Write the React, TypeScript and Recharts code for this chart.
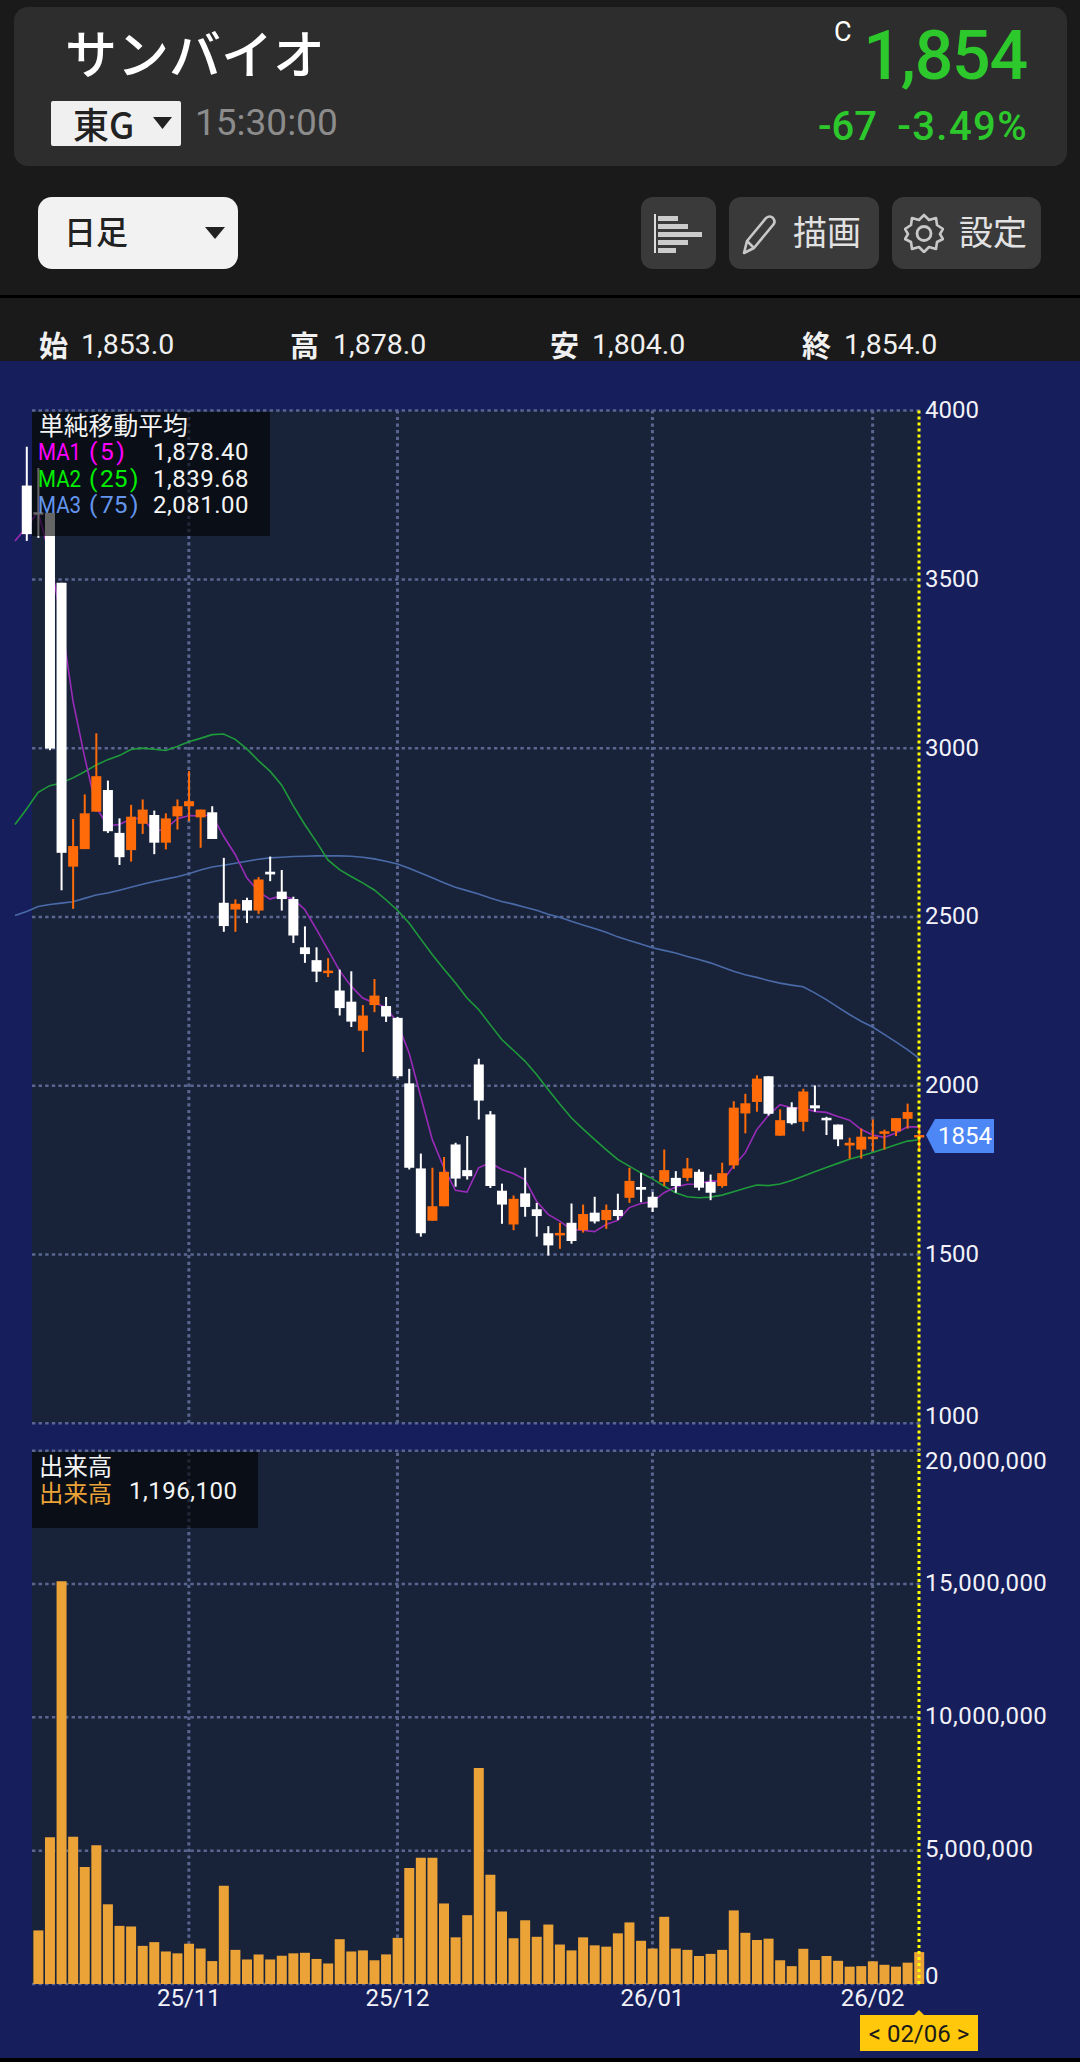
import React from 'react';
import { ComposedChart, Bar, Line, XAxis, YAxis, CartesianGrid, ReferenceLine } from 'recharts';

// session index, -2 is only seen by the moving averages
const sessionIndex = Array.from({ length: 79 }, (_, i) => i - 2);

const openPrices = [null,
  3778, 3699, 3697, 3490, 2649, 2701, 2812, 2876, 2749, 2698, 2776, 2802, 2720, 2798, 2828, 2795, 2810, 2542, 2522, 2550,
  2519, 2634, 2575, 2553, 2410, 2372, 2334, 2282, 2249, 2163, 2239, 2236, 2201, 2007, 1755, 1600, 1643, 1826, 1750, 2063,
  1915, 1689, 1589, 1681, 1634, 1563, 1562, 1594, 1572, 1624, 1602, 1632, 1668, 1700, 1671, 1715, 1727, 1727, 1745, 1715,
  1703, 1764, 1918, 1952, 2028, 1852, 1936, 1893, 1942, 1905, 1885, 1823, 1811, 1845, 1859, 1865, 1902, 1853,
];
const highPrices = [null,
  3893, 3830, 3697, 3490, 2790, 2863, 3044, 2904, 2792, 2832, 2848, 2815, 2807, 2848, 2932, 2818, 2828, 2675, 2552, 2557,
  2618, 2679, 2639, 2560, 2472, 2410, 2378, 2344, 2339, 2239, 2316, 2263, 2204, 2050, 1799, 1757, 1789, 1831, 1851, 2080,
  1925, 1710, 1675, 1757, 1653, 1584, 1594, 1651, 1648, 1671, 1648, 1680, 1757, 1742, 1685, 1811, 1747, 1786, 1752, 1737,
  1772, 1954, 1976, 2031, 2028, 1930, 1951, 1991, 2001, 1908, 1885, 1846, 1873, 1900, 1870, 1904, 1947, 1878,
];
const lowPrices = [null,
  3614, 3623, 2994, 2579, 2524, 2701, 2812, 2749, 2654, 2664, 2746, 2686, 2700, 2759, 2784, 2705, 2731, 2456, 2456, 2482,
  2509, 2606, 2519, 2423, 2364, 2307, 2322, 2208, 2174, 2100, 2218, 2189, 2023, 1752, 1553, 1600, 1643, 1701, 1722, 1900,
  1697, 1591, 1572, 1612, 1553, 1497, 1517, 1532, 1565, 1592, 1576, 1602, 1653, 1655, 1626, 1703, 1683, 1717, 1690, 1661,
  1698, 1754, 1859, 1923, 1912, 1852, 1885, 1865, 1923, 1854, 1821, 1784, 1784, 1806, 1811, 1851, 1873, 1804,
];
const closePrices = [null,
  3634, 3697, 2999, 2690, 2710, 2807, 2917, 2754, 2677, 2797, 2818, 2720, 2792, 2828, 2843, 2818, 2731, 2473, 2539, 2519,
  2611, 2626, 2553, 2445, 2390, 2338, 2341, 2230, 2190, 2208, 2267, 2205, 2028, 1757, 1563, 1643, 1745, 1725, 1732, 1956,
  1703, 1648, 1665, 1641, 1614, 1527, 1564, 1540, 1620, 1598, 1632, 1614, 1718, 1692, 1639, 1750, 1703, 1755, 1698, 1683,
  1741, 1935, 1948, 2021, 1917, 1898, 1889, 1983, 1933, 1900, 1841, 1831, 1849, 1849, 1865, 1904, 1922, 1854,
];

const ma1Values = [
  3614, 3655, 3700, 3570, 3375, 3140, 2975, 2825, 2770, 2774, 2790, 2793, 2753, 2761, 2791, 2800, 2800, 2802, 2739, 2685,
  2616, 2575, 2553, 2563, 2553, 2522, 2464, 2403, 2341, 2295, 2260, 2245, 2233, 2186, 2097, 1969, 1841, 1757, 1690, 1685,
  1757, 1772, 1752, 1740, 1722, 1658, 1619, 1599, 1574, 1572, 1568, 1589, 1601, 1639, 1651, 1656, 1683, 1700, 1708, 1709,
  1718, 1716, 1762, 1801, 1870, 1912, 1944, 1935, 1933, 1924, 1921, 1909, 1898, 1871, 1854, 1847, 1860, 1878, 1878,
];
const ma2Values = [
  2774, 2820, 2869, 2889, 2897, 2912, 2930, 2950, 2966, 2978, 2996, 3000, 2997, 2993, 3005, 3019, 3029, 3040, 3042, 3026,
  2998, 2963, 2932, 2891, 2830, 2774, 2723, 2669, 2640, 2620, 2601, 2580, 2551, 2520, 2482, 2435, 2389, 2346, 2305, 2260,
  2226, 2181, 2137, 2105, 2073, 2033, 1989, 1946, 1905, 1872, 1841, 1811, 1782, 1762, 1742, 1724, 1703, 1683, 1671, 1668,
  1670, 1676, 1686, 1696, 1706, 1704, 1709, 1719, 1732, 1745, 1758, 1770, 1782, 1792, 1802, 1813, 1825, 1836, 1840,
];
const ma3Values = [
  2504, 2516, 2531, 2537, 2541, 2545, 2555, 2565, 2571, 2579, 2588, 2597, 2605, 2612, 2619, 2628, 2639, 2648, 2653, 2659,
  2665, 2671, 2675, 2677, 2679, 2680, 2681, 2681, 2681, 2680, 2677, 2672, 2665, 2657, 2644, 2630, 2616, 2601, 2588, 2578,
  2568, 2556, 2546, 2538, 2529, 2520, 2508, 2499, 2487, 2476, 2466, 2455, 2441, 2430, 2420, 2409, 2401, 2393, 2383, 2374,
  2364, 2352, 2339, 2329, 2321, 2312, 2304, 2298, 2293, 2275, 2255, 2233, 2211, 2191, 2174, 2152, 2130, 2107, 2081,
];
const volumeValues = [null, null,
  2010000, 5500000, 15100000, 5520000, 4390000, 5200000, 2990000, 2180000, 2160000, 1430000, 1570000, 1220000, 1150000, 1510000, 1330000, 860000, 3680000, 1280000,
  920000, 1110000, 920000, 1060000, 1150000, 1170000, 940000, 770000, 1680000, 1220000, 1260000, 890000, 1110000, 1730000, 4350000, 4730000, 4730000, 3020000, 1750000, 2580000,
  8100000, 4100000, 2720000, 1720000, 2390000, 1770000, 2230000, 1480000, 1260000, 1750000, 1450000, 1400000, 1900000, 2310000, 1620000, 1330000, 2520000, 1330000, 1280000, 1050000,
  1130000, 1280000, 2760000, 1920000, 1650000, 1700000, 890000, 670000, 1320000, 900000, 1050000, 870000, 650000, 670000, 850000, 720000, 650000, 800000, 1196100,
];

const priceTicks = [4000, 3500, 3000, 2500, 2000, 1500, 1000];
const volumeTicks = [20000000, 15000000, 10000000, 5000000, 0];
const monthSessions = [13, 31, 53, 72];
const monthLabels = ['25/11', '25/12', '26/01', '26/02'];
const lastSession = 76;
const lastClose = 1854;
const lastDate = '< 02/06 >';

const chartData = sessionIndex.map((idx, i) => ({
  idx,
  open: openPrices[i],
  high: highPrices[i],
  low: lowPrices[i],
  close: closePrices[i],
  range: highPrices[i] == null ? null : [lowPrices[i], highPrices[i]],
  ma1: ma1Values[i],
  ma2: ma2Values[i],
  ma3: ma3Values[i],
  volume: volumeValues[i],
}));

const NAVY = '#161e5c';
const PLOT = '#18233a';
const GRID = '#5a6690';
const JP = '"Noto Sans CJK JP", sans-serif';
const RB = 'Roboto, sans-serif';
const GREEN = '#2cc82c';

const PAGE_W = 1080;
const PLOT_LEFT = 32;
const PLOT_W = 888;
const LEFT = 9.2;
const AXIS_W = 155.2;
const PRICE_TOP = 410.6;
const PRICE_BOTTOM = 1423.3;
const VOL_TOP = 1450.7;
const VOL_BOTTOM = 1984;

const Candle = (props: any) => {
  const { x, y, width, height, payload } = props;
  if (payload.high == null) return null;
  const perUnit = height / Math.max(1, payload.high - payload.low);
  const top = y + (payload.high - Math.max(payload.open, payload.close)) * perUnit;
  const bodyH = Math.max(2.5, Math.abs(payload.open - payload.close) * perUnit);
  const color = payload.close >= payload.open ? '#ff6b08' : '#ffffff';
  const mid = x + width / 2;
  return (
    <g>
      <rect x={mid - 1} y={y} width={2} height={height} fill={color} />
      <rect x={x} y={top} width={width} height={bodyH} fill={color} />
    </g>
  );
};

const AxisTick = (props: any) => {
  const { y, payload } = props;
  const isVolume = payload.value >= 100000 || payload.value === 0;
  let shift = isVolume ? -2 : -1;
  if (payload.value === 1000) shift = -8;
  if (payload.value === 20000000) shift = 10;
  if (payload.value === 0) shift = -9;
  const text = isVolume ? payload.value.toLocaleString('en-US') : String(payload.value);
  return (
    <text
      x={925}
      y={y + shift}
      dy={8.5}
      fill="#f2f2f8"
      fontFamily={RB}
      fontSize={24}
      letterSpacing={payload.value >= 100000 ? 0.5 : 0}
    >
      {text}
    </text>
  );
};

const MonthTick = (props: any) => {
  const { x, payload } = props;
  return (
    <text x={x} y={2006} textAnchor="middle" fill="#f2f2f8" fontFamily={RB} fontSize={24}>
      {monthLabels[monthSessions.indexOf(payload.value)]}
    </text>
  );
};

const PriceTag = (props: any) => {
  const y = props.viewBox.y + 1;
  return (
    <g>
      <polygon points={`926,${y - 1} 935,${y - 17} 994,${y - 17} 994,${y + 17} 935,${y + 17}`} fill="#4d86f5" />
      <text x={965} y={y + 8} textAnchor="middle" fill="#ffffff" fontFamily={RB} fontSize={24}>
        {lastClose}
      </text>
    </g>
  );
};

const DateTag = (props: any) => {
  const x = props.viewBox.x;
  return (
    <g>
      <polygon points={`${x - 5},2015 ${x},2010 ${x + 5},2015`} fill="#ffc80a" />
      <rect x={860} y={2015} width={118} height={36} fill="#ffc80a" />
      <text x={919} y={2042} textAnchor="middle" fill="#1a1a1a" fontFamily={RB} fontSize={24}>
        {lastDate}
      </text>
    </g>
  );
};

const Txt = ({ x, y, size, color, font = JP, weight = 400, right, spacing = 0, children }: any) => (
  <div
    style={{
      position: 'absolute',
      left: right ? undefined : x,
      right: right ? PAGE_W - x : undefined,
      top: y,
      transform: 'translateY(-50%)',
      fontSize: size,
      lineHeight: 1,
      color,
      fontFamily: font,
      fontWeight: weight,
      letterSpacing: spacing,
      whiteSpace: 'nowrap',
    }}
  >
    {children}
  </div>
);

const Box = ({ x, y, w, h, bg, r = 0 }: any) => (
  <div style={{ position: 'absolute', left: x, top: y, width: w, height: h, background: bg, borderRadius: r }} />
);

const Header = () => (
  <>
    <Box x={14} y={7} w={1053} h={159} bg="#2d2d2d" r={14} />
    <Txt x={65} y={52} size={52} color="#ffffff" weight={500}>サンバイオ</Txt>
    <Box x={51} y={101} w={130} h={45} bg="#f0f0f0" r={2} />
    <Txt x={73} y={123} size={36} color="#222222" weight={500}>東G</Txt>
    <svg style={{ position: 'absolute', left: 152, top: 116 }} width={22} height={14}>
      <polygon points="1,1 20,1 10.5,13" fill="#222222" />
    </svg>
    <Txt x={195} y={122} size={37} color="#8c8c8c" font={RB}>15:30:00</Txt>
    <Txt x={834} y={32} size={27} color="#ffffff" font={RB}>C</Txt>
    <Txt x={1027} y={56} size={68} color={GREEN} font={RB} weight={500} spacing={-1.2} right>1,854</Txt>
    <Txt x={877} y={127} size={40} color={GREEN} font={RB} weight={500} right>-67</Txt>
    <Txt x={1028} y={127} size={40} color={GREEN} font={RB} weight={500} spacing={1.4} right>-3.49%</Txt>

    <Box x={38} y={197} w={200} h={72} bg="#f2f2f2" r={14} />
    <Txt x={64} y={230} size={32} color="#222222" weight={500}>日足</Txt>
    <svg style={{ position: 'absolute', left: 204, top: 226 }} width={22} height={14}>
      <polygon points="1,1 21,1 11,13" fill="#222222" />
    </svg>

    <Box x={641} y={197} w={75} h={72} bg="#3a3a3a" r={12} />
    <svg style={{ position: 'absolute', left: 654, top: 213 }} width={50} height={42}>
      <rect x={0} y={1} width={2} height={39} fill="#dddddd" />
      <rect x={4} y={3} width={20} height={5} fill="#cccccc" />
      <rect x={4} y={11} width={30} height={5} fill="#cccccc" />
      <rect x={4} y={19} width={44} height={5} fill="#cccccc" />
      <rect x={4} y={27} width={30} height={5} fill="#cccccc" />
      <rect x={4} y={35} width={18} height={5} fill="#cccccc" />
    </svg>

    <Box x={729} y={197} w={150} h={72} bg="#3a3a3a" r={12} />
    <svg style={{ position: 'absolute', left: 742, top: 215 }} width={36} height={40}>
      <path d="M2,38 L5,26 L24,3 Q28,0 31,3 Q34,7 31,10 L12,33 Z M5,26 L12,33" fill="none" stroke="#c8c8c8" strokeWidth={2.6} strokeLinejoin="round" />
    </svg>
    <Txt x={793} y={231} size={34} color="#e2e2e2">描画</Txt>

    <Box x={892} y={197} w={149} h={72} bg="#3a3a3a" r={12} />
    <svg style={{ position: 'absolute', left: 904, top: 213 }} width={40} height={40}>
      <path
        d="M20,2 L25,7 L32,5 L33,12 L39,16 L36,21 L39,26 L33,29 L32,36 L25,34 L20,39 L15,34 L8,36 L7,29 L1,26 L4,21 L1,16 L7,12 L8,5 L15,7 Z"
        fill="none"
        stroke="#c8c8c8"
        strokeWidth={2.6}
        strokeLinejoin="round"
      />
      <circle cx={20} cy={20.5} r={7} fill="none" stroke="#c8c8c8" strokeWidth={2.8} />
    </svg>
    <Txt x={959} y={231} size={34} color="#e2e2e2">設定</Txt>

    <Box x={0} y={295} w={PAGE_W} h={3} bg="#000000" />

    <Txt x={39} y={344} size={29} color="#f0f0f0" weight={700}>始</Txt>
    <Txt x={81} y={345} size={28.5} color="#f0f0f0" font={RB}>1,853.0</Txt>
    <Txt x={290} y={344} size={29} color="#f0f0f0" weight={700}>高</Txt>
    <Txt x={333} y={345} size={28.5} color="#f0f0f0" font={RB}>1,878.0</Txt>
    <Txt x={550} y={344} size={29} color="#f0f0f0" weight={700}>安</Txt>
    <Txt x={592} y={345} size={28.5} color="#f0f0f0" font={RB}>1,804.0</Txt>
    <Txt x={802} y={344} size={29} color="#f0f0f0" weight={700}>終</Txt>
    <Txt x={844} y={345} size={28.5} color="#f0f0f0" font={RB}>1,854.0</Txt>
  </>
);

const MaRow = ({ y, color, name, period, value }: any) => (
  <>
    <div
      style={{
        position: 'absolute',
        left: 38,
        top: y,
        fontFamily: RB,
        fontSize: 24.5,
        lineHeight: 1,
        color,
        transform: 'translateY(-50%) scaleX(0.84)',
        transformOrigin: 'left center',
      }}
    >
      {name}
    </div>
    <Txt x={89} y={y} size={24.5} color={color} font={RB}>
      {`(\u200a${period}\u200a)`}
    </Txt>
    <Txt x={249} y={y} size={24} color="#f4f4f4" font={RB} spacing={0.5} right>{value}</Txt>
  </>
);

const Legends = () => (
  <>
    <Box x={32} y={412} w={238} h={124} bg="rgba(0,0,0,0.6)" />
    <Txt x={39} y={424} size={24.8} color="#f4f4f4">単純移動平均</Txt>
    <MaRow y={452} color="#ff00ff" name="MA1" period="5" value="1,878.40" />
    <MaRow y={479} color="#00ee00" name="MA2" period="25" value="1,839.68" />
    <MaRow y={505} color="#6495ed" name="MA3" period="75" value="2,081.00" />

    <Box x={32} y={1452} w={226} h={76} bg="rgba(0,0,0,0.6)" />
    <Txt x={39} y={1465} size={24.4} color="#f4f4f4">出来高</Txt>
    <Txt x={39} y={1492} size={24.4} color="#eba337">出来高</Txt>
    <Txt x={129} y={1491} size={24} color="#f4f4f4" font={RB} spacing={0.5}>1,196,100</Txt>
  </>
);

const App = () => (
  <div style={{ position: 'relative', width: PAGE_W, height: 2062, background: '#1a1a1a', overflow: 'hidden' }}>
    <style>{'body{margin:0}'}</style>
    <Header />
    <Box x={0} y={361} w={PAGE_W} h={1697} bg={NAVY} />
    <Box x={0} y={2058} w={PAGE_W} h={4} bg="#000000" />
    <Box x={PLOT_LEFT} y={PRICE_TOP} w={PLOT_W} h={PRICE_BOTTOM - PRICE_TOP} bg={PLOT} />
    <Box x={PLOT_LEFT} y={VOL_TOP} w={PLOT_W} h={VOL_BOTTOM - VOL_TOP} bg={PLOT} />

    <div style={{ position: 'absolute', left: 0, top: 0 }}>
      <ComposedChart
        width={PAGE_W}
        height={2062}
        data={chartData}
        margin={{ top: PRICE_TOP, right: 0, bottom: 2062 - PRICE_BOTTOM, left: LEFT }}
      >
        <XAxis dataKey="idx" hide padding={{ left: 0, right: 0 }} />
        <YAxis
          orientation="right"
          width={AXIS_W}
          domain={[1000, 4000]}
          ticks={priceTicks}
          axisLine={false}
          tickLine={false}
          interval={0}
          tick={<AxisTick />}
        />
        <CartesianGrid x={PLOT_LEFT} width={PLOT_W} vertical={false} stroke={GRID} strokeWidth={2.5} strokeDasharray="3.4 3.2" />
        {monthSessions.map((m) => (
          <ReferenceLine key={m} x={m} stroke={GRID} strokeWidth={3} strokeDasharray="3.2 3.4" zIndex={50} />
        ))}
        <Line dataKey="ma3" stroke="#4a6aa8" strokeWidth={1.6} dot={false} isAnimationActive={false} />
        <Line dataKey="ma2" stroke="#1f9a3a" strokeWidth={1.6} dot={false} isAnimationActive={false} />
        <Line dataKey="ma1" stroke="#9a2bb8" strokeWidth={1.6} dot={false} isAnimationActive={false} />
        <Bar dataKey="range" barSize={10} shape={<Candle />} isAnimationActive={false} zIndex={450} />
        <ReferenceLine
          segment={[{ x: lastSession, y: 4000 }, { x: lastSession, y: 919 }]}
          ifOverflow="visible"
          stroke="#ffff00"
          strokeWidth={3}
          strokeDasharray="3 3"
          zIndex={600}
        />
        <ReferenceLine y={lastClose} stroke="none" label={(p: any) => <PriceTag {...p} />} />
      </ComposedChart>
    </div>

    <div style={{ position: 'absolute', left: 0, top: 0 }}>
      <ComposedChart
        width={PAGE_W}
        height={2062}
        data={chartData}
        margin={{ top: VOL_TOP, right: 0, bottom: 0, left: LEFT }}
      >
        <XAxis
          dataKey="idx"
          height={2062 - VOL_BOTTOM}
          ticks={monthSessions}
          interval={0}
          axisLine={false}
          tickLine={false}
          tick={<MonthTick />}
        />
        <YAxis
          orientation="right"
          width={AXIS_W}
          domain={[0, 20000000]}
          ticks={volumeTicks}
          axisLine={false}
          tickLine={false}
          interval={0}
          tick={<AxisTick />}
        />
        <CartesianGrid x={PLOT_LEFT} width={PLOT_W} vertical={false} stroke={GRID} strokeWidth={2.5} strokeDasharray="3.4 3.2" />
        {monthSessions.map((m) => (
          <ReferenceLine key={m} x={m} stroke={GRID} strokeWidth={3} strokeDasharray="3.2 3.4" zIndex={50} />
        ))}
        <Bar dataKey="volume" barSize={10} fill="#eba337" isAnimationActive={false} zIndex={450} />
        <ReferenceLine
          x={lastSession}
          stroke="#ffff00"
          strokeWidth={3}
          strokeDasharray="3 3"
          zIndex={600}
          label={(p: any) => <DateTag {...p} />}
        />
      </ComposedChart>
    </div>

    <Legends />
  </div>
);

export default App;
